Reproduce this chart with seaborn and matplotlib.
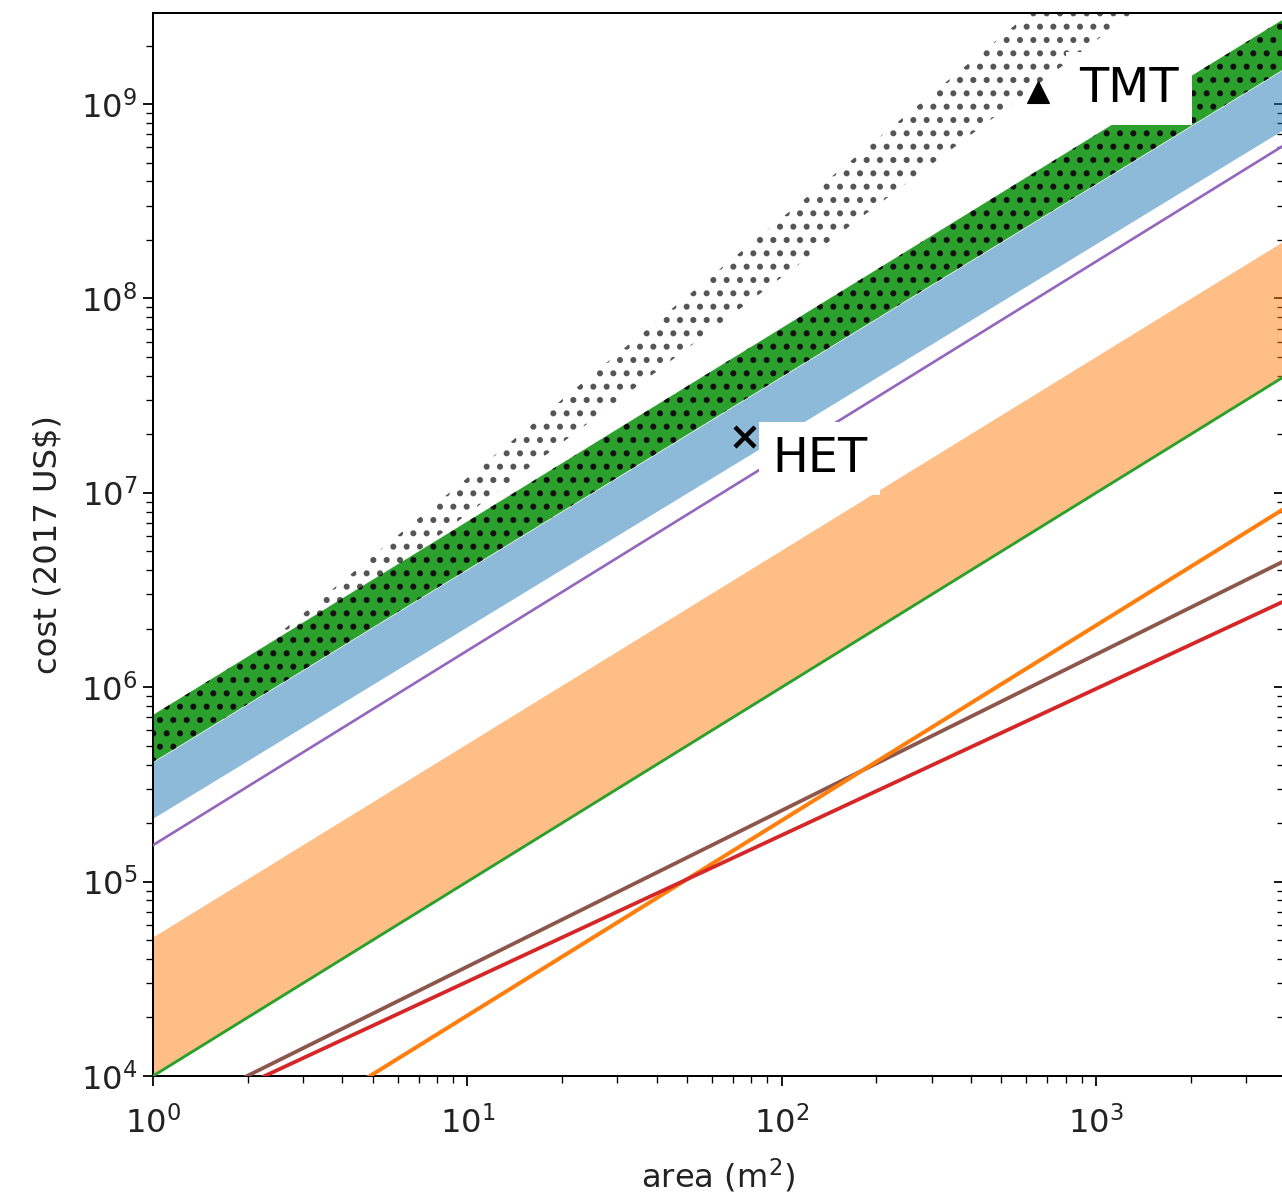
import matplotlib
matplotlib.use("Agg")
import matplotlib.pyplot as plt
import seaborn as sns
import numpy as np
import pandas as pd

# ---- data (values at area = 1 and area = 4000 m^2) ----
area_ends = [1.0, 4000.0]
green_line = [1.0e4, 4.0e7]
orange_band_top = [5.2e4, 2.0e8]
purple_line = [1.54e5, 6.2e8]
blue_band_low = [2.12e5, 7.5e8]
blue_band_high = [4.12e5, 1.53e9]
green_band_top = [7.2e5, 2.77e9]
gray_band_low = [4.7e5, 1.15e10]
gray_band_high = [5.5e5, 3.6e10]
red_line = [5.4e3, 2.79e6]
brown_line = [5.75e3, 4.49e6]
orange_line = [2.03e3, 8.36e6]

telescopes = ["HET", "TMT"]
tel_area = [76.5, 654.0]
tel_cost = [1.94e7, 1.15e9]
tel_marker = ["x", "^"]

xticks = [1, 10, 100, 1000]
yticks = [1e4, 1e5, 1e6, 1e7, 1e8, 1e9]

# ---- figure ----
DPI = 80
sns.set_style("ticks")
plt.rcParams["font.family"] = ["DejaVu Sans"]
plt.rcParams["hatch.linewidth"] = 3.0

fig = plt.figure(figsize=(1282 / DPI, 1199 / DPI), dpi=DPI)
ax = fig.add_axes([153 / 1282, (1199 - 1076) / 1199, (1284 - 153) / 1282, (1076 - 13) / 1199])
ax.set_xscale("log")
ax.set_yscale("log")

x = np.array(area_ends)

# bands
ax.fill_between(x, green_line, orange_band_top, facecolor="#ff7f0e", alpha=0.5, linewidth=0, zorder=1)
ax.fill_between(x, blue_band_low, blue_band_high, facecolor="#1f77b4", alpha=0.5, linewidth=0, zorder=1)
ax.fill_between(x, gray_band_low, gray_band_high, facecolor="none", edgecolor="#555555",
                hatch=".", linewidth=0, zorder=1.5)
ax.fill_between(x, blue_band_high, green_band_top, facecolor="#2ca02c", edgecolor="#111111",
                hatch=".", linewidth=0, zorder=2)

# lines
lines = pd.DataFrame({
    "area": list(x) * 5,
    "cost": green_line + purple_line + red_line + brown_line + orange_line,
    "model": ["green"] * 2 + ["purple"] * 2 + ["red"] * 2 + ["brown"] * 2 + ["orange"] * 2,
})
pal = {"green": "#2ca02c", "purple": "#9467bd", "red": "#d62728", "brown": "#8c564b", "orange": "#ff7f0e"}
widths = {"green": 2.6, "purple": 2.4, "red": 3.4, "brown": 3.4, "orange": 3.6}
for m, sub in lines.groupby("model"):
    sns.lineplot(data=sub, x="area", y="cost", color=pal[m], linewidth=widths[m], ax=ax,
                 legend=False, zorder=3)

# telescopes
for name, a, c, mk in zip(telescopes, tel_area, tel_cost, tel_marker):
    if mk == "x":
        ax.plot([a], [c], marker="x", color="black", markersize=18, markeredgewidth=4,
                linestyle="none", zorder=5)
    else:
        ax.plot([a], [c], marker="^", color="black", markersize=19, linestyle="none", zorder=5)

label_pos = {"HET": (93.2, 1.28e7), "TMT": (883.0, 1.023e9)}
for name in telescopes:
    lx, ly = label_pos[name]
    ax.text(lx, ly, name, fontsize=43, ha="left", va="baseline", color="black", zorder=6,
            bbox=dict(boxstyle="square,pad=0.27", facecolor="white", edgecolor="none"))

ax.set_xlim(1, 3960)
ax.set_ylim(1e4, 2.94e9)
ax.set_xticks(xticks)
ax.set_yticks(yticks)
for axis in (ax.xaxis, ax.yaxis):
    axis.set_minor_locator(matplotlib.ticker.LogLocator(base=10, subs=np.arange(2, 10), numticks=20))
    axis.set_minor_formatter(matplotlib.ticker.NullFormatter())

for s in ["top", "left", "bottom", "right"]:
    ax.spines[s].set_visible(True)
    ax.spines[s].set_color("black")
    ax.spines[s].set_linewidth(1.8)

ax.tick_params(axis="both", which="major", length=9, width=1.6, labelsize=29, color="black",
               labelcolor="#222222")
ax.tick_params(axis="y", which="major", pad=5)
ax.tick_params(axis="x", which="major", pad=18)
ax.tick_params(axis="both", which="minor", length=6, width=1.2, color="black")

# inward ticks on the right edge
ax2 = ax.secondary_yaxis("right")
ax2.tick_params(which="major", direction="in", length=9, width=1.6, labelright=False, color="black")
ax2.tick_params(which="minor", direction="in", length=6, width=1.2, color="black")
ax2.spines["right"].set_linewidth(1.8)

ax.set_xlabel("area (m$^2$)", fontsize=29, color="#222222", labelpad=14)
ax.set_ylabel("cost (2017 US$)", fontsize=29, color="#222222", labelpad=16)

fig.savefig("out.png", dpi=DPI)
